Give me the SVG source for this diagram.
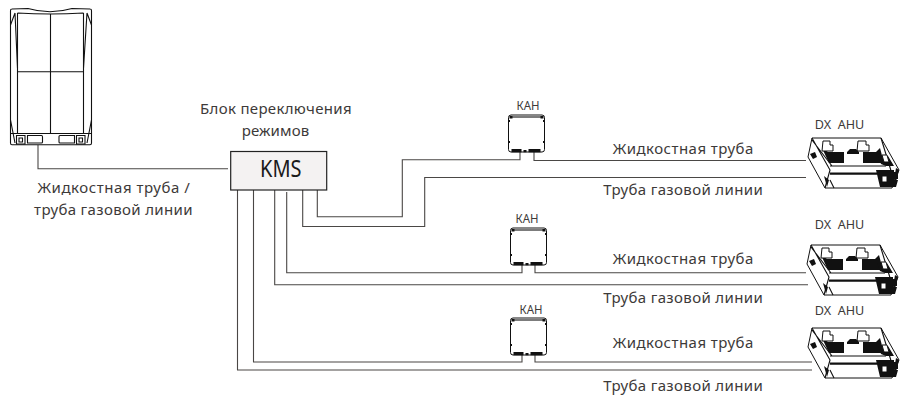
<svg xmlns="http://www.w3.org/2000/svg" width="900" height="395" viewBox="0 0 900 395">
<style>
text{font-family:"Noto Sans","DejaVu Sans",sans-serif;fill:#3d3a39;text-anchor:middle}
.l{font-size:15px}
.s{font-size:13px}
.p{fill:none;stroke:#4a4745;stroke-width:1.1}
.k{fill:none;stroke:#111;stroke-width:1.1}
.b{fill:#111;stroke:none}
.w{fill:#fff;stroke:#111;stroke-width:1}
</style>
<defs>
<g id="kah">
<rect x="0" y="0" width="36" height="37" rx="2.5" fill="#fff" stroke="#111" stroke-width="1"/>
<path class="k" d="M3 2H33" stroke-width="0.8"/>
<path class="b" d="M1 1h3v2.500h-3zM32 1h3v2.500h-3zM-0.500 26h2v2h-2zM34.500 26h2v2h-2zM-0.500 5h2v2h-2zM34.500 5h2v2h-2zM3 34h10v3.200h-10zM15 35h3v2.200h-3zM20 34h12v3.200h-12z"/>
</g>
<g id="ahu">
<path class="w" stroke-width="1.200" d="M4 8L73 8L91 40L84 58L17 58L0 27Z"/>
<path class="k" d="M4 8L22 40L17 58M22 36H78M22 44H84M4 10L24 36M73 8L84 44M22 50L26 58"/>
<path class="b" d="M14 18L20 22H36V33H21ZM55 22H68L72 18L76 33H55Z"/>
<path class="w" d="M15 11H22V15H25V21H14ZM50 11H58V15H61V21H49Z" stroke-width="0.900"/>
<path class="b" d="M39 22L42 19H48L51 22V24H39ZM2 24L7 22L9 27L5 29ZM22 42.500H84V44.500H22ZM16 46L21 50L19 57ZM70 26H80L86 36H78L73 34ZM68 40H86V50L81 57H72ZM85 42H90V49H85ZM83 50H90L88 57H81ZM88 38L91 40L87 56H85Z"/>
<path class="w" d="M74 25H79L81 32H76ZM74 46H79V52H74Z" stroke-width="0.800"/>
</g>
</defs>
<g id="connectors" class="p">
<path class="p" d="M38 145V168.700H228"/>
<path class="p" d="M317.300 190V216.700H402.300V159.700H520V152"/>
<path class="p" d="M534 152V160.500H806"/>
<path class="p" d="M302.700 190V226.500H424.700V177.500H806"/>
<path class="p" d="M286.700 192V272.700H522V265"/>
<path class="p" d="M535 265V272.700H806"/>
<path class="p" d="M274.700 190V284.700H808"/>
<path class="p" d="M253.500 190V362H522V355"/>
<path class="p" d="M535 355V362H812"/>
<path class="p" d="M237.500 190V370H812"/>
</g>
<g id="odu">
<path class="k" stroke-width="1.200" d="M10.500 10.500Q10.500 9 12 9L28 8.500Q50 15 72 8.500L90 9Q91.500 9 91.500 10.500V143Q91.500 144.800 90 144.800H12Q10.500 144.800 10.500 143Z"/>
<path class="k" stroke-width="1.200" d="M17.500 13V133.500H83.500V13M17.500 13Q50 15 83.500 13M50.500 14V133.500M17.500 71.700H83.500"/>
<path class="k" stroke-width="0.800" d="M10.500 25L15 13M91.500 25L87 13M15 13L17.500 68M87 13L83.500 68M10.500 120L15 143M91.500 120L87 143"/>
<path class="k" d="M16.500 135.500H25V144H16.500ZM76.500 135.500H85V144H76.500ZM19 138H22.500V142H19ZM79 138H82.500V142H79Z"/>
<path class="k" stroke-width="1.600" d="M27.500 135.500H41.500Q42.500 135.500 42.500 137V142Q42.500 143 41.500 143H27.500ZM59 136.500Q59 135.500 60 135.500H74.500V143H60Q59 143 59 142Z"/>
<path class="k" d="M10.500 133.500H17.500M83.500 133.500H91.500"/>
</g>
<g id="kms">
<rect x="230.700" y="151.500" width="96" height="38.500" fill="#f4f2f2" stroke="#222" stroke-width="1.200"/>
<text x="280.800" y="177.300" textLength="41.500" lengthAdjust="spacingAndGlyphs" style="font-size:23px;fill:#1a1a1a">KMS</text>
</g>
<g id="kms-label">
<text class="l" x="275.800" y="114" textLength="151.500">Блок переключения</text>
<text class="l" x="275.500" y="136" textLength="67.500">режимов</text>
</g>
<g id="odu-label">
<text class="l" x="113.700" y="193" textLength="152.500">Жидкостная труба /</text>
<text class="l" x="113.300" y="215" textLength="158.500">труба газовой линии</text>
</g>
<g id="kah1"><use href="#kah" x="508.500" y="115"/><text class="s" x="528" y="110" textLength="23" lengthAdjust="spacingAndGlyphs">КАН</text></g>
<g id="kah2"><use href="#kah" x="510.500" y="228"/><text class="s" x="527" y="222.500" textLength="23" lengthAdjust="spacingAndGlyphs">КАН</text></g>
<g id="kah3"><use href="#kah" x="510.500" y="318"/><text class="s" x="531" y="313.500" textLength="23" lengthAdjust="spacingAndGlyphs">КАН</text></g>
<g id="ahu1"><use href="#ahu" x="808" y="130"/><text class="s" x="839.500" y="129" textLength="49.500" lengthAdjust="spacingAndGlyphs" xml:space="preserve">DX  AHU</text></g>
<g id="ahu2"><use href="#ahu" x="807" y="237"/><text class="s" x="839.500" y="229" textLength="49.500" lengthAdjust="spacingAndGlyphs" xml:space="preserve">DX  AHU</text></g>
<g id="ahu3"><use href="#ahu" x="808" y="320"/><text class="s" x="839.500" y="315" textLength="49.500" lengthAdjust="spacingAndGlyphs" xml:space="preserve">DX  AHU</text></g>
<g id="pipe-labels">
<text class="l" x="683" y="154.300" textLength="140.600">Жидкостная труба</text>
<text class="l" x="683" y="195" textLength="159.600">Труба газовой линии</text>
<text class="l" x="683" y="264" textLength="140.600">Жидкостная труба</text>
<text class="l" x="683" y="302.500" textLength="159.600">Труба газовой линии</text>
<text class="l" x="683" y="347.500" textLength="140.600">Жидкостная труба</text>
<text class="l" x="683" y="390.500" textLength="159.600">Труба газовой линии</text>
</g>
</svg>
